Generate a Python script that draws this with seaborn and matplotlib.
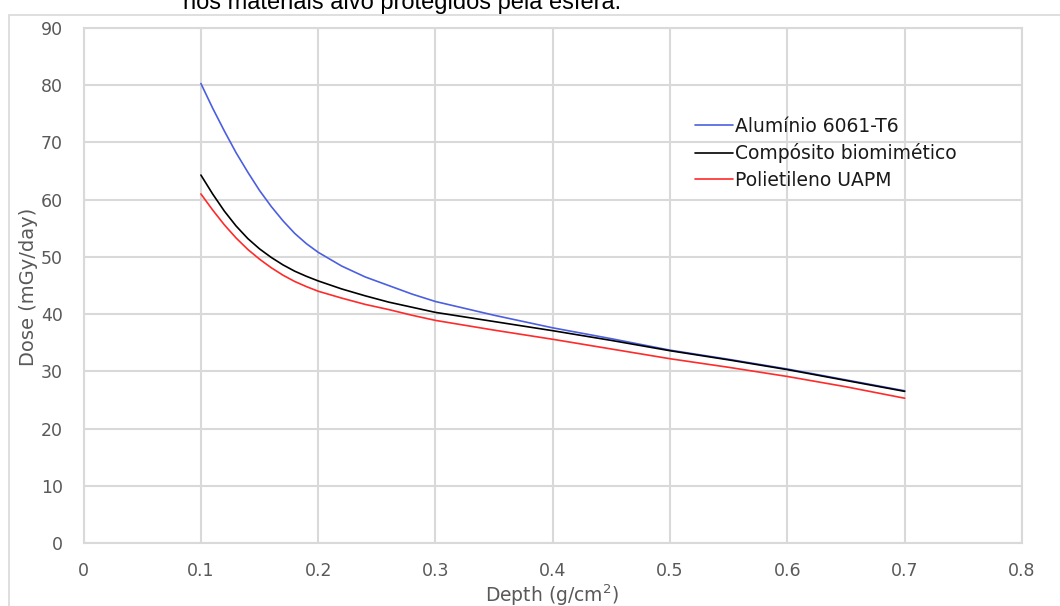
import matplotlib
matplotlib.use("Agg")
import matplotlib.pyplot as plt
from matplotlib.patches import Rectangle
import seaborn as sns
import pandas as pd

# Shielding depth (g/cm^2)
depth = [0.10, 0.11, 0.12, 0.13, 0.14, 0.15, 0.16, 0.17, 0.18, 0.19,
         0.20, 0.22, 0.24, 0.26, 0.28, 0.30, 0.35, 0.40, 0.45, 0.50,
         0.55, 0.60, 0.65, 0.70]

# Dose behind each material (mGy/day)
aluminio = [80.3, 76.0, 72.0, 68.2, 64.8, 61.6, 58.8, 56.3, 54.1, 52.3,
            50.8, 48.4, 46.5, 45.0, 43.5, 42.2, 39.8, 37.6, 35.7, 33.7,
            32.1, 30.4, 28.5, 26.6]
composito = [64.3, 61.0, 58.0, 55.4, 53.2, 51.4, 49.9, 48.6, 47.5, 46.6,
             45.8, 44.4, 43.2, 42.1, 41.2, 40.3, 38.7, 37.1, 35.4, 33.6,
             32.0, 30.3, 28.4, 26.5]
polietileno = [61.0, 58.2, 55.6, 53.3, 51.3, 49.6, 48.1, 46.8, 45.7, 44.8,
               44.0, 42.8, 41.7, 40.8, 39.8, 38.9, 37.2, 35.6, 33.9, 32.2,
               30.7, 29.1, 27.3, 25.3]

series_names = ["Alumínio 6061-T6", "Compósito biomimético", "Polietileno UAPM"]
series_colors = ["#4b5fe0", "#000000", "#ff2a2a"]

x_ticks = [0, 0.1, 0.2, 0.3, 0.4, 0.5, 0.6, 0.7, 0.8]
x_tick_labels = ["0", "0.1", "0.2", "0.3", "0.4", "0.5", "0.6", "0.7", "0.8"]
y_ticks = [0, 10, 20, 30, 40, 50, 60, 70, 80, 90]

frames = []
for name, values in zip(series_names, [aluminio, composito, polietileno]):
    frames.append(pd.DataFrame({"Depth": depth, "Dose": values, "Material": name}))
df = pd.concat(frames, ignore_index=True)

sns.set_theme(style="white")
plt.rcParams["font.family"] = ["DejaVu Sans"]

W, H = 1060, 606
fig = plt.figure(figsize=(W / 100, H / 100), dpi=100)
fig.patch.set_facecolor("white")

# Chart area frame
fig.patches.append(Rectangle((9 / W, -0.2), 1.2, 1.2 - 15 / H,
                             transform=fig.transFigure, fill=False,
                             edgecolor="#d9d9d9", linewidth=1.2, zorder=0))

ax = fig.add_axes([83.6 / W, 1 - 543 / H, (1022 - 83.6) / W, (543 - 28) / H])

sns.lineplot(data=df, x="Depth", y="Dose", hue="Material",
             palette=dict(zip(series_names, series_colors)),
             hue_order=series_names, linewidth=1.2, ax=ax, legend=True)

ax.set_xlim(0, 0.8)
ax.set_ylim(0, 90)
ax.set_xticks(x_ticks)
ax.set_xticklabels(x_tick_labels)
ax.set_yticks(y_ticks)
ax.grid(True, color="#d9d9d9", linewidth=1.5)
ax.set_axisbelow(True)
for s in ax.spines.values():
    s.set_color("#d9d9d9")
    s.set_linewidth(1.5)
ax.tick_params(axis="both", length=0, labelsize=12.5, labelcolor="#595959")
ax.tick_params(axis="x", pad=14)
ax.tick_params(axis="y", pad=15)
ax.set_xlabel("")
ax.set_ylabel("")

fig.text(552 / W, 1 - 595 / H, "Depth (g/cm$^2$)", ha="center", va="center",
         fontsize=13.5, color="#595959")
fig.text(29 / W, 1 - 287 / H, "Dose (mGy/day)", ha="center", va="center",
         rotation=90, fontsize=14, color="#595959")

leg = ax.legend(loc="upper left", bbox_to_anchor=(695 / W, 1 - 117 / H),
                bbox_transform=fig.transFigure, frameon=False, fontsize=13.5,
                handlelength=2.0, handletextpad=0.15, labelspacing=0.4,
                borderpad=0, borderaxespad=0)
for t in leg.get_texts():
    t.set_color("#1a1a1a")

# Caption of the surrounding document
fig.text(183 / W, 1 - 9 / H, "nos materiais alvo protegidos pela esfera.",
         ha="left", va="baseline", fontsize=17, color="black",
         family="Liberation Sans")

fig.savefig("out.png", dpi=100, facecolor="white")
